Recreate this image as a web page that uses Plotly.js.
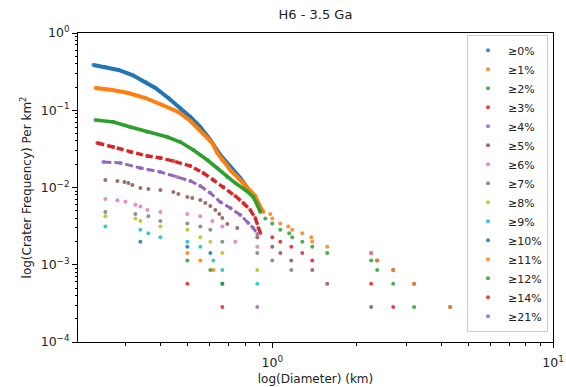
<!DOCTYPE html>
<html>
<head>
<meta charset="utf-8">
<script src="https://cdn.plot.ly/plotly-3.0.1.min.js"></script>
<style>html,body{margin:0;padding:0;background:#fff;}#chart{width:566px;height:387px;}</style>
</head>
<body>
<div id="chart"></div>
<script>
// Legend labels and colours (matplotlib default cycle)
const labels = ['≥0%','≥1%','≥2%','≥3%','≥4%','≥5%','≥6%','≥7%','≥8%','≥9%','≥10%','≥11%','≥12%','≥14%','≥21%'];
const colors = ['#1f77b4','#ff7f0e','#2ca02c','#d62728','#9467bd','#8c564b','#e377c2','#7f7f7f','#bcbd22','#17becf','#1f77b4','#ff7f0e','#2ca02c','#d62728','#9467bd'];

// Dense (curve) parts: diameter (km) and cumulative frequency (per km^2)
const curveD0 = [0.2307,0.2544,0.2831,0.3175,0.3532,0.3833,0.4265,0.4706,0.5108,0.5543,0.6017,0.6531,0.7086,0.7694,0.8148];
const curveF0 = [0.385,0.363,0.332,0.286,0.232,0.194,0.144,0.107,0.0818,0.0607,0.0412,0.0263,0.0184,0.01327,0.00985];
const curveD1 = [0.2345,0.2696,0.3073,0.3532,0.4060,0.4629,0.5108,0.5681,0.6116,0.6372,0.6639,0.7086,0.7568,0.8148,0.8698,0.9064,0.9289];
const curveF1 = [0.194,0.1829,0.1673,0.144,0.1169,0.0949,0.0726,0.0493,0.0377,0.0280,0.0227,0.01685,0.01327,0.00985,0.00776,0.00559,0.00482];
const curveD2 = [0.2345,0.2718,0.3124,0.3590,0.4230,0.4706,0.5235,0.5870,0.6372,0.6915,0.7383,0.8016,0.8557,0.8843,0.9064];
const curveF2 = [0.0748,0.0705,0.0607,0.0523,0.0450,0.0388,0.0306,0.0227,0.0179,0.01367,0.01143,0.00928,0.00753,0.00594,0.00482];
const curveD3 = [0.2383,0.2718,0.3124,0.3590,0.3994,0.4443,0.5108,0.5681,0.6166,0.6693,0.7383,0.7885,0.8350,0.8698,0.8917,0.9064];
const curveF3 = [0.0377,0.0334,0.0288,0.0256,0.0241,0.0220,0.0190,0.0154,0.01251,0.01015,0.00776,0.0063,0.00511,0.00403,0.00299,0.00258];
const curveD4 = [0.2503,0.2877,0.3390,0.3994,0.4592,0.5108,0.5543,0.6017,0.6531,0.7086,0.7694,0.8216,0.8557,0.8843];
const curveF4 = [0.0214,0.0208,0.0179,0.0159,0.01367,0.01214,0.01046,0.00849,0.00649,0.00543,0.00441,0.00347,0.00299,0.0025];

// Sparse (dot) parts
const dotD0 = [2.250,2.364,2.696,3.201,4.301];
const dotF0 = [0.00142,0.001136,0.000852,0.000568,0.000284];
const dotD1 = [0.9837,1.0,1.068,1.140,1.178,1.279,1.376,1.388,1.569,2.250,2.364,2.696,3.201,4.301];
const dotF1 = [0.004544,0.003976,0.003408,0.003124,0.00284,0.002556,0.002272,0.001988,0.001704,0.00142,0.001136,0.000852,0.000568,0.000284];
const dotD2 = [0.9443,1.0,1.068,1.149,1.178,1.279,1.388,1.569,2.250,2.364,2.696,3.201];
const dotF2 = [0.003976,0.003408,0.00284,0.002556,0.002272,0.001988,0.001704,0.00142,0.001136,0.000852,0.000568,0.000284];
const dotD3 = [1.0,1.068,1.169,1.279,1.388,2.250,2.696];
const dotF3 = [0.002272,0.001988,0.001704,0.00142,0.001136,0.000568,0.000284];
const dotD4 = [];
const dotF4 = [];
const dotD5 = [0.2544,0.2808,0.2974,0.3073,0.3175,0.3390,0.3620,0.3994,0.4443,0.4629,0.4983,0.5190,0.5543,0.5776,0.6017,0.6269,0.6477,0.6639,0.6915,0.7505,0.8843,1.0,1.068,1.169,1.388,1.569,2.250];
const dotF5 = [0.01251,0.01214,0.01178,0.01143,0.01077,0.00985,0.00956,0.00928,0.00874,0.00824,0.00753,0.00731,0.00689,0.0063,0.00576,0.00511,0.00454,0.00403,0.00337,0.00299,0.002272,0.001704,0.00142,0.001136,0.000852,0.000568,0.000284];
const dotD6 = [0.2544,0.2808,0.2998,0.3254,0.3390,0.3590,0.3994,0.4983,0.5543,0.6116,0.6639,0.7383,0.8843,2.250];
const dotF6 = [0.0071,0.006816,0.006532,0.005964,0.00568,0.005112,0.004828,0.004544,0.00426,0.003692,0.003124,0.001988,0.001704,0.00142];
const dotD7 = [0.2544,0.3254,0.3620,0.3994,0.4983,0.5543,0.6017,0.6639,0.8843,1.0,1.169];
const dotF7 = [0.004828,0.004544,0.00426,0.003692,0.003408,0.003124,0.00284,0.001988,0.00142,0.001136,0.000852];
const dotD8 = [0.2544,0.3254,0.3390,0.3994,0.4983,0.5543,0.6017,0.6639,0.8843];
const dotF8 = [0.00426,0.003976,0.003692,0.003124,0.00284,0.002272,0.001988,0.00142,0.000852];
const dotD9 = [0.2544,0.3390,0.3620,0.3994,0.4983,0.5543,0.6166,0.6639,0.8843];
const dotF9 = [0.003124,0.00284,0.002556,0.002272,0.001988,0.001704,0.001136,0.000852,0.000568];
const dotD10 = [0.3390,0.4983,0.6017,0.6639];
const dotF10 = [0.001988,0.001704,0.00142,0.000568];
const dotD11 = [0.4983,0.5543,0.6166];
const dotF11 = [0.00142,0.001136,0.000852];
const dotD12 = [0.4983,0.6017,0.6639];
const dotF12 = [0.001136,0.000852,0.000568];
const dotD13 = [0.4983,0.6639];
const dotF13 = [0.000568,0.000284];
const dotD14 = [0.8843];
const dotF14 = [0.000284];

// Axis tick values (decades) and minor ticks
const xMajor = [1, 10];
const xMajorText = ['10<sup>0</sup>', '10<sup>1</sup>'];
const xMinor = [0.3,0.4,0.5,0.6,0.7,0.8,0.9,2,3,4,5,6,7,8,9];
const yMajor = [1e-4, 1e-3, 1e-2, 1e-1, 1];
const yMajorText = ['10<sup>−4</sup>', '10<sup>−3</sup>', '10<sup>−2</sup>', '10<sup>−1</sup>', '10<sup>0</sup>'];
const yMinor = [2e-4,3e-4,4e-4,5e-4,6e-4,7e-4,8e-4,9e-4,2e-3,3e-3,4e-3,5e-3,6e-3,7e-3,8e-3,9e-3,
                0.02,0.03,0.04,0.05,0.06,0.07,0.08,0.09,0.2,0.3,0.4,0.5,0.6,0.7,0.8,0.9];

const curveD = [curveD0,curveD1,curveD2,curveD3,curveD4];
const curveF = [curveF0,curveF1,curveF2,curveF3,curveF4];
const dotD = [dotD0,dotD1,dotD2,dotD3,dotD4,dotD5,dotD6,dotD7,dotD8,dotD9,dotD10,dotD11,dotD12,dotD13,dotD14];
const dotF = [dotF0,dotF1,dotF2,dotF3,dotF4,dotF5,dotF6,dotF7,dotF8,dotF9,dotF10,dotF11,dotF12,dotF13,dotF14];
const lineStyle = [
  {width:4, dash:'solid'},
  {width:4, dash:'solid'},
  {width:3.6, dash:'solid'},
  {width:3.4, dash:'7px,3px'},
  {width:3, dash:'8px,3px'}
];

const traces = [];
for (let i = 0; i < labels.length; i++) {
  let xs = dotD[i].slice(), ys = dotF[i].slice();
  if (i < curveD.length) {
    traces.push({
      x: curveD[i], y: curveF[i], mode: 'lines', type: 'scatter',
      line: {color: colors[i], width: lineStyle[i].width, dash: lineStyle[i].dash},
      showlegend: false, hoverinfo: 'skip'
    });
    xs = curveD[i].concat(xs); ys = curveF[i].concat(ys);
  }
  traces.push({
    x: xs, y: ys, mode: 'markers', type: 'scatter', name: labels[i],
    marker: {color: colors[i], size: 4, opacity: 0.85}
  });
}

const axisCommon = {
  type: 'log', showline: true, linecolor: '#000', linewidth: 1, mirror: true,
  showgrid: false, zeroline: false, ticks: 'outside', ticklen: 5, tickwidth: 1, tickcolor: '#000',
  tickfont: {size: 12.5, color: '#222'}, tickmode: 'array'
};

const layout = {
  width: 566, height: 387,
  margin: {l: 78, r: 13, t: 33, b: 45},
  paper_bgcolor: '#fff', plot_bgcolor: '#fff',
  font: {family: 'DejaVu Sans, sans-serif', size: 12, color: '#222'},
  title: {text: 'H6 - 3.5 Ga', font: {size: 13, color: '#222'}, x: 0.5, xref: 'paper', xanchor: 'center', y: 0.962, yref: 'container', yanchor: 'middle'},
  xaxis: Object.assign({}, axisCommon, {
    range: [-0.692, 1], tickvals: xMajor, ticktext: xMajorText, ticklabelstandoff: 4,
    minor: {tickmode: 'array', tickvals: xMinor, ticks: 'outside', ticklen: 2.5, tickwidth: 1, tickcolor: '#000', showgrid: false},
    title: {text: 'log(Diameter) (km)', font: {size: 12, color: '#222'}, standoff: 5}
  }),
  yaxis: Object.assign({}, axisCommon, {
    range: [-4, 0], tickvals: yMajor, ticktext: yMajorText,
    minor: {tickmode: 'array', tickvals: yMinor, ticks: 'outside', ticklen: 2.5, tickwidth: 1, tickcolor: '#000', showgrid: false},
    title: {text: 'log(Crater Frequency) Per km<sup>2</sup>', font: {size: 12, color: '#222'}, standoff: 6}
  }),
  legend: {
    x: 0.9895, xanchor: 'right', y: 0.994, yanchor: 'top',
    bgcolor: 'rgba(255,255,255,0.85)', bordercolor: '#ccc', borderwidth: 1,
    font: {size: 11, color: '#222'}, itemsizing: 'trace', tracegroupgap: 0
  },
  showlegend: true
};

Plotly.newPlot('chart', traces, layout, {displayModeBar: false, staticPlot: true});
</script>
</body>
</html>
